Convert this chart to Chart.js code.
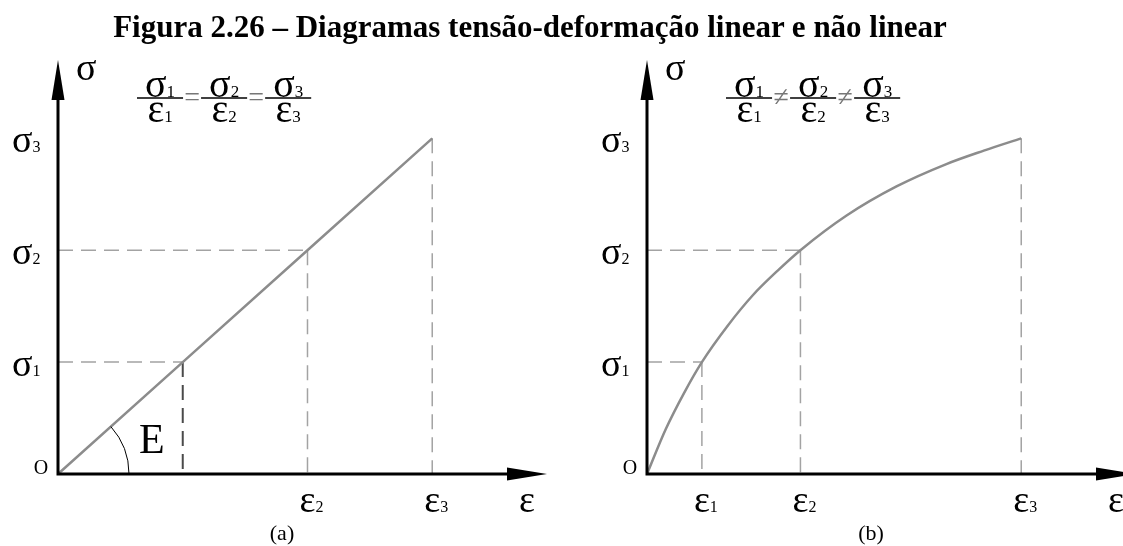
<!DOCTYPE html>
<html lang="pt">
<head>
<meta charset="UTF-8">
<title>Diagramas tensão-deformação</title>
<script src="https://cdn.jsdelivr.net/npm/chart.js"></script>
<style>
    body {
        margin: 0;
        background: #fff;
        width: 1123px;
        height: 546px;
        overflow: hidden;
        position: relative;
        font-family: "Liberation Serif", "Times New Roman", serif;
    }
    h2 {
        position: absolute;
        left: 0;
        top: 9px;
        width: 1060px;
        margin: 0;
        text-align: center;
        font-size: 31px;
        font-weight: bold;
        color: #000;
        z-index: 2;
    }
    canvas { position: absolute; top: 0; }
    #chartA { left: 0; }
    #chartB { left: 560px; }
</style>
</head>
<body>
<h2>Figura 2.26 – Diagramas tensão-deformação linear e não linear</h2>
<canvas id="chartA" width="580" height="546"></canvas>
<canvas id="chartB" width="580" height="546"></canvas>
<script>
// (a) linear material: stress proportional to strain
const strainLinear = [0, 1, 2, 3];
const stressLinear = [0, 1, 2, 3];
// (b) non linear material
const strainCurve = [0, 0.15, 0.3, 0.44, 0.65, 0.85, 1.05, 1.23, 1.6, 2.0, 2.4, 2.7, 3];
const stressCurve = [0, 0.40, 0.73, 1, 1.33, 1.60, 1.82, 2, 2.31, 2.57, 2.77, 2.89, 3];

// marked points (ε1..ε3, σ1..σ3) on each diagram
const markStrainA = [1, 2, 3];
const markStrainB = [0.44, 1.23, 3];
const markStress = [1, 2, 3];

// subscripts for the tick labels; ε1 is not labelled on (a)
const stressSubs = ['1', '2', '3'];
const strainSubsA = [null, '2', '3'];
const strainSubsB = ['1', '2', '3'];

const X_MAX = 3.92;
const Y_MAX = 3.7;
const FONT = '"Liberation Serif", "Times New Roman", serif';

function textWithSub(ctx, main, sub, x, y, size, align) {
    const subSize = Math.round(size * 0.42);
    ctx.font = size + 'px ' + FONT;
    const w1 = ctx.measureText(main).width;
    ctx.font = subSize + 'px ' + FONT;
    const w2 = sub ? ctx.measureText(sub).width : 0;
    const x0 = align === 'center' ? x - (w1 + w2) / 2 : x;
    ctx.textAlign = 'left';
    ctx.textBaseline = 'alphabetic';
    ctx.font = size + 'px ' + FONT;
    ctx.fillText(main, x0, y);
    if (sub) {
        ctx.font = subSize + 'px ' + FONT;
        ctx.fillText(sub, x0 + w1, y);
    }
    return w1 + w2;
}

function measureSub(ctx, main, sub, size) {
    ctx.font = size + 'px ' + FONT;
    const w1 = ctx.measureText(main).width;
    ctx.font = Math.round(size * 0.42) + 'px ' + FONT;
    return w1 + ctx.measureText(sub).width;
}

// σk/εk sep σk/εk sep ...
function drawRelation(ctx, x, barY, sep) {
    let cx = x;
    stressSubs.forEach((k, i) => {
        const w = Math.max(measureSub(ctx, 'σ', k, 40), measureSub(ctx, 'ε', k, 40)) + 16;
        ctx.fillStyle = '#000';
        textWithSub(ctx, 'σ', k, cx + w / 2, barY - 1, 40, 'center');
        textWithSub(ctx, 'ε', k, cx + w / 2, barY + 24, 40, 'center');
        ctx.strokeStyle = '#000';
        ctx.lineWidth = 1.5;
        ctx.beginPath();
        ctx.moveTo(cx, barY);
        ctx.lineTo(cx + w, barY);
        ctx.stroke();
        cx += w;
        if (i < stressSubs.length - 1) {
            ctx.font = '28px ' + FONT;
            ctx.fillStyle = '#777';
            ctx.textAlign = 'center';
            ctx.textBaseline = 'middle';
            ctx.fillText(sep, cx + 9, barY + 1);
            cx += 18;
        }
    });
}

const diagramPlugin = {
    id: 'diagram',
    afterDatasetsDraw(chart, args, o) {
        const ctx = chart.ctx;
        const xs = chart.scales.x, ys = chart.scales.y;
        const ox = xs.getPixelForValue(0), oy = ys.getPixelForValue(0);
        const tx = xs.getPixelForValue(xs.max), ty = ys.getPixelForValue(ys.max);
        ctx.save();

        // axes with arrowheads
        ctx.strokeStyle = '#000';
        ctx.lineWidth = 3;
        ctx.beginPath();
        ctx.moveTo(ox - 1.5, oy);
        ctx.lineTo(tx - 30, oy);
        ctx.moveTo(ox, oy + 1.5);
        ctx.lineTo(ox, ty + 30);
        ctx.stroke();
        ctx.fillStyle = '#000';
        ctx.beginPath();
        ctx.moveTo(tx, oy);
        ctx.lineTo(tx - 40, oy - 6.5);
        ctx.lineTo(tx - 40, oy + 6.5);
        ctx.closePath();
        ctx.fill();
        ctx.beginPath();
        ctx.moveTo(ox, ty);
        ctx.lineTo(ox - 6.5, ty + 40);
        ctx.lineTo(ox + 6.5, ty + 40);
        ctx.closePath();
        ctx.fill();

        // axis names and origin
        ctx.fillStyle = '#000';
        textWithSub(ctx, 'σ', null, ox + 18, ty + 20, 38, 'left');
        textWithSub(ctx, 'ε', null, ox + 461, oy + 38, 38, 'left');
        ctx.font = '20px ' + FONT;
        ctx.textAlign = 'center';
        ctx.textBaseline = 'alphabetic';
        ctx.fillText('O', ox - 17, oy);

        // tick labels
        markStress.forEach((s, i) => {
            textWithSub(ctx, 'σ', stressSubs[i], ox - 46, ys.getPixelForValue(s) + 14, 38, 'left');
        });
        o.strainPts.forEach((e, i) => {
            if (!o.strainSubs[i]) return;
            textWithSub(ctx, 'ε', o.strainSubs[i], xs.getPixelForValue(e) + 4, oy + 38, 38, 'center');
        });

        drawRelation(ctx, ox + 79, ty + 38, o.sep);

        ctx.fillStyle = '#000';
        ctx.font = '22px ' + FONT;
        ctx.textAlign = 'center';
        ctx.textBaseline = 'alphabetic';
        ctx.fillText(o.panel, ox + 224, oy + 66);

        if (o.angle) {
            const px = xs.getPixelForValue(strainLinear[1]) - ox;
            const py = oy - ys.getPixelForValue(stressLinear[1]);
            ctx.strokeStyle = '#000';
            ctx.lineWidth = 1;
            ctx.beginPath();
            ctx.arc(ox, oy, 71, -Math.atan2(py, px), 0);
            ctx.stroke();
            ctx.font = '42px ' + FONT;
            ctx.textAlign = 'left';
            ctx.fillText('E', ox + 81, oy - 21);
        }
        ctx.restore();
    }
};

const curveStyle = { borderColor: '#8c8c8c', borderWidth: 2.5 };
const guideStyle = { borderColor: '#a3a3a3', borderWidth: 1.5, borderDash: [15, 8] };
const strongStyle = { borderColor: '#4a4a4a', borderWidth: 2, borderDash: [15, 8] };

function guideSets(strain, stress, strongFirst) {
    const sets = [];
    strain.forEach((e, i) => {
        const s = stress[i];
        if (i < strain.length - 1) {
            sets.push({ data: [{ x: 0, y: s }, { x: e, y: s }], ...guideStyle });
        }
        const st = strongFirst && i === 0 ? strongStyle : guideStyle;
        sets.push({ data: [{ x: e, y: s }, { x: e, y: 0 }], ...st });
    });
    return sets;
}

function makeDiagram(id, strain, stress, marks, padLeft, extra, pluginOpts) {
    const main = {
        data: strain.map((x, i) => ({ x: x, y: stress[i] })),
        ...curveStyle,
        ...extra
    };
    const datasets = [main, ...guideSets(marks, markStress, pluginOpts.angle)];
    datasets.forEach(d => {
        d.showLine = true;
        d.pointRadius = 0;
        d.fill = false;
        d.clip = false;
    });
    return new Chart(document.getElementById(id), {
        type: 'scatter',
        data: { datasets: datasets },
        options: {
            responsive: false,
            animation: false,
            devicePixelRatio: 1,
            events: [],
            layout: { padding: { left: padLeft, right: 580 - padLeft - 489, top: 60, bottom: 72 } },
            scales: {
                x: { type: 'linear', min: 0, max: X_MAX, display: false },
                y: { type: 'linear', min: 0, max: Y_MAX, display: false }
            },
            plugins: {
                legend: { display: false },
                tooltip: { enabled: false },
                diagram: pluginOpts
            }
        },
        plugins: [diagramPlugin]
    });
}

makeDiagram('chartA', strainLinear, stressLinear, markStrainA, 58, {},
    { strainPts: markStrainA, strainSubs: strainSubsA, sep: '=', panel: '(a)', angle: true });
makeDiagram('chartB', strainCurve, stressCurve, markStrainB, 87, { cubicInterpolationMode: 'monotone' },
    { strainPts: markStrainB, strainSubs: strainSubsB, sep: '≠', panel: '(b)', angle: false });
</script>
</body>
</html>
